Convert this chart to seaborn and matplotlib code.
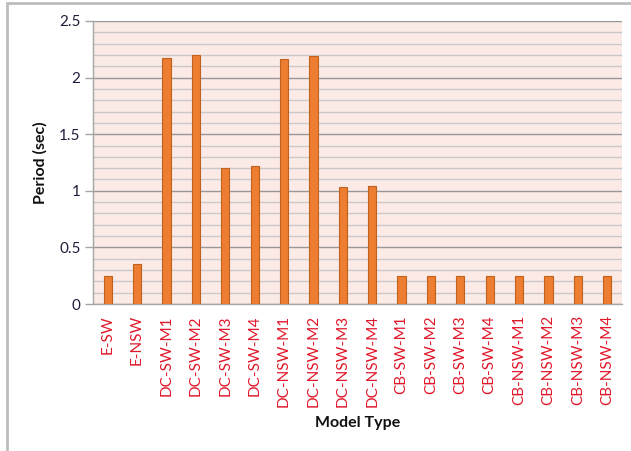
import matplotlib
matplotlib.use("Agg")
import matplotlib.pyplot as plt
import seaborn as sns
import pandas as pd
import numpy as np
from matplotlib.patches import Rectangle
from matplotlib.ticker import MultipleLocator

models = ["E-SW", "E-NSW",
          "DC-SW-M1", "DC-SW-M2", "DC-SW-M3", "DC-SW-M4",
          "DC-NSW-M1", "DC-NSW-M2", "DC-NSW-M3", "DC-NSW-M4",
          "CB-SW-M1", "CB-SW-M2", "CB-SW-M3", "CB-SW-M4",
          "CB-NSW-M1", "CB-NSW-M2", "CB-NSW-M3", "CB-NSW-M4"]
periods = [0.25, 0.35,
           2.17, 2.20, 1.20, 1.22,
           2.16, 2.19, 1.03, 1.04,
           0.25, 0.25, 0.25, 0.25,
           0.25, 0.25, 0.25, 0.25]
y_ticks = [0, 0.5, 1, 1.5, 2, 2.5]

df = pd.DataFrame({"Model Type": models, "Period (sec)": periods})

sns.set_theme(style="white")
plt.rcParams["font.family"] = ["Lato", "DejaVu Sans"]

W, H = 631, 451
fig = plt.figure(figsize=(W / 100, H / 100), dpi=100)
ax = fig.add_axes([93 / W, 1 - 304 / H, (622 - 93) / W, (304 - 21) / H])

# outer chart frame
fig.patches.append(Rectangle((7 / W, -0.05), 1.1, 1 - 3 / H + 0.05,
                             transform=fig.transFigure, fill=False,
                             edgecolor="#BDBDBD", linewidth=2.0, zorder=0))

ax.set_facecolor("#FBEAE5")
sns.barplot(data=df, x="Model Type", y="Period (sec)", ax=ax,
            color="#ED7D31", saturation=1, width=0.28,
            edgecolor="#C0621F", linewidth=0.8, zorder=3)

ax.set_ylim(0, 2.5)
ax.set_xlim(-0.5, len(models) - 0.5)
ax.set_yticks(y_ticks)
ax.set_yticklabels([f"{v:g}" for v in y_ticks])
ax.yaxis.set_minor_locator(MultipleLocator(0.1))
ax.grid(which="major", axis="y", color="#989898", linewidth=1.0, zorder=0)
ax.grid(which="minor", axis="y", color="#C9C9C9", linewidth=1.0, zorder=0)
ax.set_axisbelow(True)

for side in ["top", "right"]:
    ax.spines[side].set_visible(False)
ax.spines["left"].set_color("#A6A6A6")
ax.spines["bottom"].set_color("#A6A6A6")
ax.spines["left"].set_linewidth(1.0)
ax.spines["bottom"].set_linewidth(1.0)

ax.tick_params(axis="y", which="major", direction="out", length=6,
               width=1.0, color="#A6A6A6", labelsize=11,
               labelcolor="#1E1E3C", pad=3, left=True)
ax.tick_params(axis="y", which="minor", length=0)
ax.tick_params(axis="x", length=0, labelsize=11, labelcolor="#E0182A",
               pad=8, rotation=90)

ax.set_xlabel("Model Type", fontsize=11.5, fontweight="bold",
              color="#111111", labelpad=6)
ax.set_ylabel("Period (sec)", fontsize=11.5, fontweight="bold",
              color="#111111", labelpad=8)

fig.savefig("out.png", dpi=100, facecolor="white")
